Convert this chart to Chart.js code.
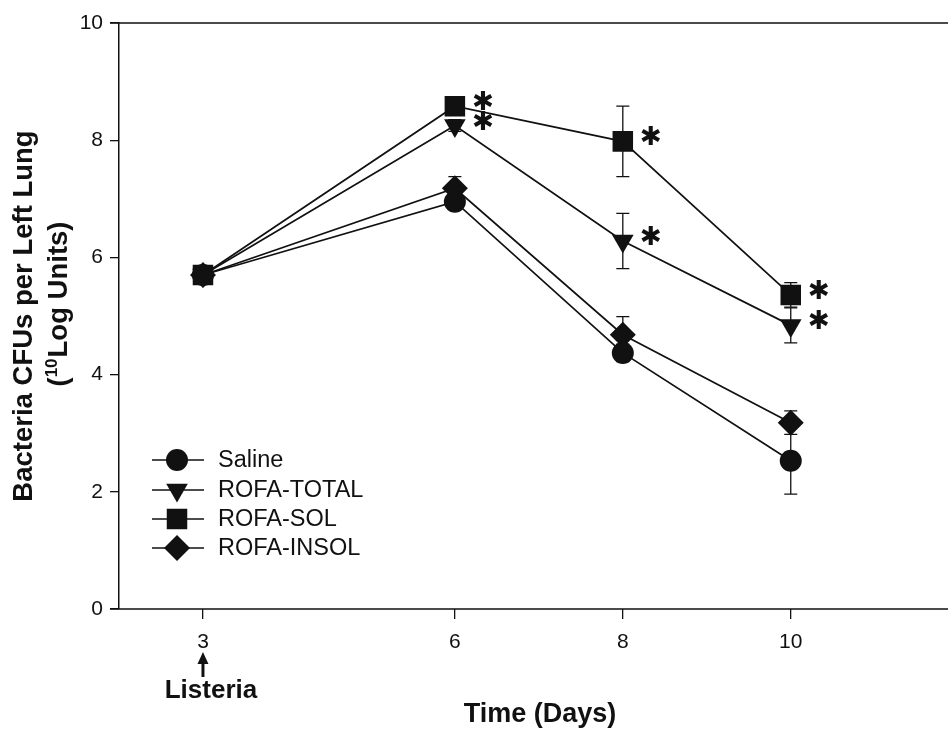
<!DOCTYPE html>
<html>
<head>
<meta charset="utf-8">
<script src="https://cdn.jsdelivr.net/npm/chart.js@4/dist/chart.umd.min.js"></script>
<style>
  html, body { margin: 0; padding: 0; background: #fff; }
  canvas { display: block; }
</style>
</head>
<body>
<canvas id="c" width="948" height="731"></canvas>
<script>
// ---- data ----
const days = [3, 6, 8, 10];
const xTickValues = [3, 6, 8, 10];
const yTickValues = [0, 2, 4, 6, 8, 10];

const seriesNames = ['Saline', 'ROFA-TOTAL', 'ROFA-SOL', 'ROFA-INSOL'];

const saline        = [5.70, 6.95, 4.37, 2.53];
const salineErr     = [0.00, 0.12, 0.15, 0.57];
const rofaTotal     = [5.70, 8.25, 6.28, 4.84];
const rofaTotalErr  = [0.00, 0.10, 0.47, 0.30];
const rofaSol       = [5.70, 8.58, 7.98, 5.36];
const rofaSolErr    = [0.00, 0.10, 0.60, 0.21];
const rofaInsol     = [5.70, 7.18, 4.68, 3.18];
const rofaInsolErr  = [0.00, 0.20, 0.31, 0.20];

// significance markers (*)
const salineSig    = [false, false, false, false];
const rofaTotalSig = [false, true, true, true];
const rofaSolSig   = [false, true, true, true];
const rofaInsolSig = [false, false, false, false];

const xAxisTitle = 'Time (Days)';
const yTitleLine1 = 'Bacteria CFUs per Left Lung';
const yTitleLine2a = '(';
const yTitleSup = '10';
const yTitleLine2b = 'Log Units)';
const arrowLabel = 'Listeria';
const starGlyph = '\u2731';

// ---- styles ----
const FONT = '"Liberation Sans", Arial, Helvetica, sans-serif';
const INK = '#111';
const styles = [
  { pointStyle: 'circle',   radius: 11,   rotation: 0 },
  { pointStyle: 'triangle', radius: 12.5, rotation: 180 },
  { pointStyle: 'rect',     radius: 14.5, rotation: 0 },
  { pointStyle: 'rectRot',  radius: 13,   rotation: 0 }
];
const valueSets = [saline, rofaTotal, rofaSol, rofaInsol];
const errSets = [salineErr, rofaTotalErr, rofaSolErr, rofaInsolErr];
const sigSets = [salineSig, rofaTotalSig, rofaSolSig, rofaInsolSig];

const datasets = seriesNames.map((name, i) => ({
  label: name,
  data: days.map((d, j) => ({ x: d, y: valueSets[i][j] })),
  errors: errSets[i],
  sig: sigSets[i],
  borderColor: INK,
  backgroundColor: INK,
  borderWidth: 1.7,
  showLine: true,
  tension: 0,
  pointStyle: styles[i].pointStyle,
  pointRadius: styles[i].radius,
  pointHoverRadius: styles[i].radius,
  pointRotation: styles[i].rotation,
  pointBackgroundColor: INK,
  pointBorderColor: INK,
  pointBorderWidth: 0
}));

function drawMarker(ctx, style, r, rot, x, y) {
  ctx.beginPath();
  if (style === 'circle') {
    ctx.arc(x, y, r, 0, Math.PI * 2);
  } else if (style === 'rect') {
    const s = r * Math.SQRT1_2;
    ctx.rect(x - s, y - s, 2 * s, 2 * s);
  } else if (style === 'rectRot') {
    ctx.moveTo(x, y - r); ctx.lineTo(x + r, y); ctx.lineTo(x, y + r); ctx.lineTo(x - r, y);
  } else if (style === 'triangle') {
    let a = rot * Math.PI / 180;
    ctx.moveTo(x + Math.sin(a) * r, y - Math.cos(a) * r);
    a += 2 * Math.PI / 3;
    ctx.lineTo(x + Math.sin(a) * r, y - Math.cos(a) * r);
    a += 2 * Math.PI / 3;
    ctx.lineTo(x + Math.sin(a) * r, y - Math.cos(a) * r);
  }
  ctx.closePath();
  ctx.fill();
}

const decorPlugin = {
  id: 'decor',
  beforeDatasetsDraw(chart) {
    const ctx = chart.ctx;
    const xs = chart.scales.x, ys = chart.scales.y;
    ctx.save();
    ctx.strokeStyle = INK;
    ctx.lineWidth = 1.3;
    chart.data.datasets.forEach(ds => {
      ds.data.forEach((p, j) => {
        const e = ds.errors[j];
        if (!e) return;
        const px = xs.getPixelForValue(p.x);
        const y1 = ys.getPixelForValue(p.y + e);
        const y2 = ys.getPixelForValue(p.y - e);
        ctx.beginPath();
        ctx.moveTo(px, y1); ctx.lineTo(px, y2);
        ctx.moveTo(px - 6.5, y1); ctx.lineTo(px + 6.5, y1);
        ctx.moveTo(px - 6.5, y2); ctx.lineTo(px + 6.5, y2);
        ctx.stroke();
      });
    });
    ctx.restore();
  },
  afterDraw(chart) {
    const ctx = chart.ctx;
    const ca = chart.chartArea;
    const xs = chart.scales.x, ys = chart.scales.y;
    ctx.save();
    // top frame line and full bottom axis line to the right edge
    ctx.strokeStyle = INK;
    ctx.lineWidth = 1.5;
    const yb = ys.getPixelForValue(0);
    const yt = ys.getPixelForValue(10);
    ctx.beginPath();
    ctx.moveTo(ca.left - 9, yt);
    ctx.lineTo(chart.width, yt);
    ctx.moveTo(ca.left - 9, yb);
    ctx.lineTo(chart.width, yb);
    ctx.stroke();

    // asterisks
    ctx.fillStyle = INK;
    ctx.textAlign = 'center';
    ctx.textBaseline = 'alphabetic';
    ctx.font = '40px "DejaVu Sans", sans-serif';
    let m = ctx.measureText(starGlyph);
    let w = m.actualBoundingBoxLeft + m.actualBoundingBoxRight;
    const fs = w > 0 ? 40 * 19 / w : 24;
    ctx.font = fs.toFixed(2) + 'px "DejaVu Sans", sans-serif';
    m = ctx.measureText(starGlyph);
    const midOff = (m.actualBoundingBoxAscent - m.actualBoundingBoxDescent) / 2;
    const cxOff = (m.actualBoundingBoxLeft - m.actualBoundingBoxRight) / 2;
    chart.data.datasets.forEach(ds => {
      ds.data.forEach((p, j) => {
        if (!ds.sig[j]) return;
        const px = xs.getPixelForValue(p.x) + 28;
        const py = ys.getPixelForValue(p.y) - 6;
        ctx.fillText(starGlyph, px + cxOff, py + midOff);
      });
    });

    // legend
    const lx0 = 152, lx1 = 204, mx = 177, tx = 218;
    const rowY = [460, 490, 519, 548];
    ctx.font = '23.5px ' + FONT;
    ctx.textAlign = 'left';
    ctx.textBaseline = 'middle';
    chart.data.datasets.forEach((ds, i) => {
      const y = rowY[i];
      ctx.strokeStyle = INK;
      ctx.lineWidth = 1.7;
      ctx.beginPath(); ctx.moveTo(lx0, y); ctx.lineTo(lx1, y); ctx.stroke();
      drawMarker(ctx, styles[i].pointStyle, styles[i].radius, styles[i].rotation, mx, y);
      ctx.fillText(ds.label, tx, y + 1);
    });

    // y axis title (two lines, rotated)
    ctx.save();
    ctx.translate(32, 316);
    ctx.rotate(-Math.PI / 2);
    ctx.font = 'bold 27.5px ' + FONT;
    ctx.textAlign = 'center';
    ctx.textBaseline = 'alphabetic';
    ctx.fillText(yTitleLine1, 0, 0);
    ctx.restore();

    ctx.save();
    ctx.translate(67, 304);
    ctx.rotate(-Math.PI / 2);
    ctx.textBaseline = 'alphabetic';
    ctx.textAlign = 'left';
    const big = 'bold 27.5px ' + FONT, small = 'bold 17px ' + FONT;
    ctx.font = big; const wa = ctx.measureText(yTitleLine2a).width;
    const wb = ctx.measureText(yTitleLine2b).width;
    ctx.font = small; const ws = ctx.measureText(yTitleSup).width;
    const total = wa + ws + 1 + wb;
    let cx = -total / 2;
    ctx.font = big; ctx.fillText(yTitleLine2a, cx, 0); cx += wa;
    ctx.font = small; ctx.fillText(yTitleSup, cx, -10); cx += ws + 1;
    ctx.font = big; ctx.fillText(yTitleLine2b, cx, 0);
    ctx.restore();

    // x axis title
    ctx.font = 'bold 27px ' + FONT;
    ctx.textAlign = 'center';
    ctx.textBaseline = 'alphabetic';
    ctx.fillText(xAxisTitle, 540, 722);

    // Listeria arrow at day 3
    const ax = xs.getPixelForValue(days[0]);
    ctx.strokeStyle = INK;
    ctx.lineWidth = 3;
    ctx.beginPath(); ctx.moveTo(ax, 677); ctx.lineTo(ax, 660); ctx.stroke();
    ctx.beginPath();
    ctx.moveTo(ax, 652); ctx.lineTo(ax + 5.5, 664); ctx.lineTo(ax - 5.5, 664); ctx.closePath();
    ctx.fill();
    ctx.font = 'bold 26px ' + FONT;
    ctx.fillText(arrowLabel, ax + 8, 698);
    ctx.restore();
  }
};

new Chart(document.getElementById('c'), {
  type: 'scatter',
  data: { datasets },
  plugins: [decorPlugin],
  options: {
    responsive: false,
    animation: false,
    events: [],
    layout: { padding: { top: 23, right: 0, left: 0, bottom: 0 } },
    plugins: { legend: { display: false }, tooltip: { enabled: false }, title: { display: false } },
    scales: {
      x: {
        type: 'linear',
        position: 'bottom',
        min: 2.0,
        max: 11.70,
        afterBuildTicks: (scale) => { scale.ticks = xTickValues.map(v => ({ value: v })); },
        afterFit: (scale) => { scale.height = 122; },
        ticks: { color: INK, font: { family: FONT, size: 21 }, padding: 11, maxRotation: 0, autoSkip: false,
                 callback: (v) => String(v) },
        grid: { drawOnChartArea: false, drawTicks: true, tickLength: 10, color: INK, lineWidth: 1.3 },
        border: { display: false }
      },
      y: {
        min: 0,
        max: 10,
        afterBuildTicks: (scale) => { scale.ticks = yTickValues.map(v => ({ value: v })); },
        afterFit: (scale) => { scale.width = 119; },
        ticks: { color: INK, font: { family: FONT, size: 21 }, padding: 7,
                 callback: (v) => String(v) },
        grid: { drawOnChartArea: false, drawTicks: true, tickLength: 9, color: INK, lineWidth: 1.3 },
        border: { display: true, color: INK, width: 1.5 }
      }
    }
  }
});
</script>
</body>
</html>
